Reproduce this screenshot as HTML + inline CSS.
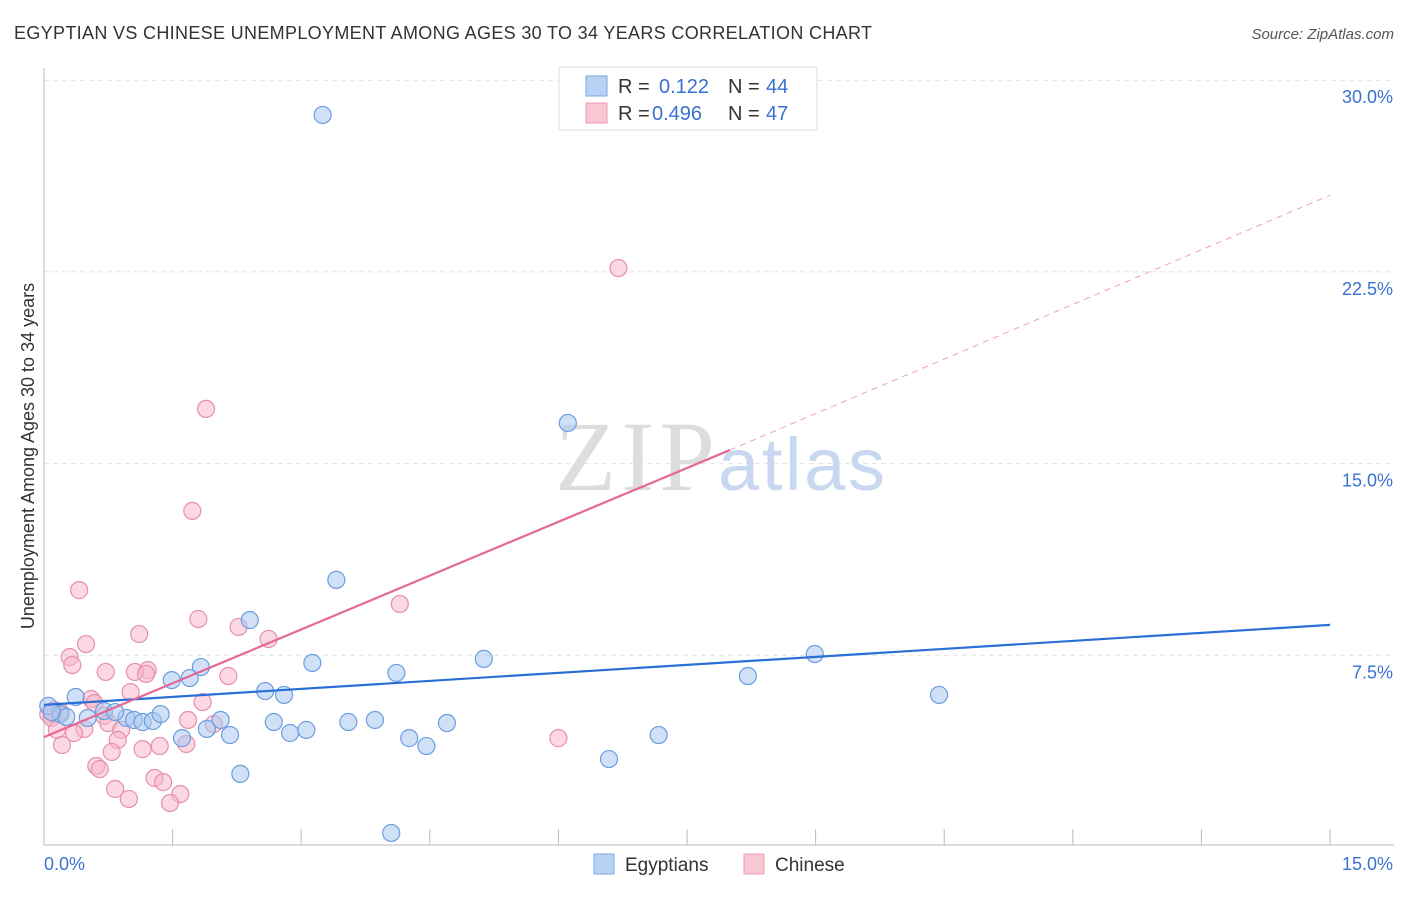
<!DOCTYPE html>
<html><head><meta charset="utf-8"><style>
body{margin:0;background:#fff;font-family:"Liberation Sans",sans-serif;}
svg text{font-family:"Liberation Sans",sans-serif;}
</style></head><body>
<svg id="chart" width="1406" height="892">
<text x="14" y="39" font-size="18" fill="#333" textLength="858">EGYPTIAN VS CHINESE UNEMPLOYMENT AMONG AGES 30 TO 34 YEARS CORRELATION CHART</text>
<text x="1394" y="39" font-size="15" fill="#555" font-style="italic" text-anchor="end">Source: ZipAtlas.com</text>
<text x="34" y="456" font-size="18" fill="#333" text-anchor="middle" transform="rotate(-90 34 456)">Unemployment Among Ages 30 to 34 years</text>
<g id="grid"></g>
<g id="axes"></g>
<text x="555" y="490" font-size="100" fill="#ddd" textLength="160" style="font-family:'Liberation Serif',serif">ZIP</text>
<text x="718" y="490" font-size="74" fill="#c7d8f0" textLength="167">atlas</text>
<g id="pts"></g>
<g id="lines"></g>
<g>
<rect x="559" y="67" width="258" height="63" fill="#fff" stroke="#ddd"/>
<rect x="586" y="76" width="21" height="20" fill="#b8d2f4" stroke="#7aa6e4"/>
<rect x="586" y="103" width="21" height="20" fill="#f9c6d4" stroke="#eb9ab4"/>
<text x="618" y="93" font-size="20" fill="#333">R = </text><text x="659" y="93" font-size="20" fill="#3a72d0">0.122</text>
<text x="728" y="93" font-size="20" fill="#333">N = </text><text x="766" y="93" font-size="20" fill="#3a72d0">44</text>
<text x="618" y="120" font-size="20" fill="#333">R = </text><text x="652" y="120" font-size="20" fill="#3a72d0">0.496</text>
<text x="728" y="120" font-size="20" fill="#333">N = </text><text x="766" y="120" font-size="20" fill="#3a72d0">47</text>
</g>
<g>
<rect x="594" y="854" width="20" height="20" fill="#b8d2f4" stroke="#7aa6e4"/>
<text x="625" y="871" font-size="19" fill="#333">Egyptians</text>
<rect x="744" y="854" width="20" height="20" fill="#f9c6d4" stroke="#eb9ab4"/>
<text x="775" y="871" font-size="19" fill="#333">Chinese</text>
</g>
</svg>
<script>
const yTicks=[7.5,15,22.5,30];
const yTickLabels=["7.5%","15.0%","22.5%","30.0%"];
const xTickCount=10;
const blueX=[3.25,6.11,3.41,2.40,8.99,5.13,3.13,4.11,8.21,1.83,1.49,1.70,2.58,2.80,10.44,0.37,0.05,0.19,0.26,0.51,0.70,0.96,1.05,1.15,1.27,1.36,2.06,2.68,3.55,3.86,4.70,1.90,2.17,2.87,3.06,1.61,4.26,4.46,7.17,2.29,6.59,4.05,0.09,0.83];
const blueY=[28.64,16.59,10.45,8.88,7.55,7.36,7.20,6.81,6.69,7.04,6.53,6.61,6.10,5.95,5.95,5.87,5.52,5.20,5.09,5.05,5.32,5.05,4.97,4.89,4.93,5.20,4.97,4.89,4.89,4.97,4.85,4.62,4.38,4.46,4.58,4.26,4.26,3.95,4.38,2.86,3.44,0.55,5.28,5.28];
const pinkX=[6.70,1.89,1.73,0.41,4.15,1.80,1.11,2.27,2.62,0.49,0.30,0.33,1.21,1.06,0.72,1.19,2.15,1.01,0.55,0.59,1.85,0.12,0.19,0.05,0.70,0.09,1.68,0.75,1.98,0.47,0.35,0.90,0.15,0.21,0.86,1.35,1.66,1.15,0.79,6.00,0.61,0.65,1.29,1.39,0.83,1.59,0.99,1.47];
const pinkY=[22.65,17.14,13.15,10.05,9.51,8.92,8.33,8.61,8.14,7.94,7.43,7.12,6.92,6.85,6.85,6.77,6.69,6.06,5.79,5.63,5.67,5.36,5.28,5.20,5.13,5.05,4.97,4.85,4.81,4.62,4.46,4.58,4.58,3.99,4.19,3.95,4.03,3.83,3.72,4.26,3.17,3.05,2.70,2.54,2.27,2.07,1.88,1.72];
const blueTrend=[[0,5.56],[15,8.69]];
const pinkTrend=[[0,4.30],[8.0,15.53]];
const pinkDash=[[8.0,15.53],[15,25.5]];
const X=v=>44+v*(1286/15), Y=v=>847-v*25.56;
const NS="http://www.w3.org/2000/svg";
function mk(t,a,p){const e=document.createElementNS(NS,t);for(const k in a)e.setAttribute(k,a[k]);p.appendChild(e);return e;}
const grid=document.getElementById('grid'),axes=document.getElementById('axes');
yTicks.forEach((t,i)=>{
 const l=mk('line',{x1:44,x2:1394,y1:Y(t),y2:Y(t),stroke:'#e2e2e2','stroke-dasharray':'5,4'},grid);
 
 
 const tx=mk('text',{x:1393,y:Y(t)+23,'font-size':18,fill:'#3a72d0','text-anchor':'end'},axes);
 tx.textContent=yTickLabels[i];
 
 
});
mk('line',{x1:44,x2:44,y1:68,y2:845,stroke:'#bbb'},axes);
mk('line',{x1:44,x2:1394,y1:845,y2:845,stroke:'#bbb'},axes);
for(let i=0;i<=xTickCount;i++){const x=X(i*15/xTickCount);const t=mk('line',{x1:x,x2:x,y1:829,y2:845,stroke:'#bbb'},axes);
 
 }
let a=mk('text',{x:44,y:870,'font-size':18,fill:'#3a72d0'},axes);a.textContent='0.0%';

a=mk('text',{x:1393,y:870,'font-size':18,fill:'#3a72d0','text-anchor':'end'},axes);a.textContent='15.0%';

const pts=document.getElementById('pts');
function dots(xs,ys,f,s,name){xs.forEach((x,i)=>{const c=mk('circle',{cx:X(x),cy:Y(ys[i]),r:8.5,fill:f,'fill-opacity':0.55,stroke:s,'stroke-width':1.2},pts);
 
 });}
dots(pinkX,pinkY,'#f7b8cb','#e78fab','chinese-point');
dots(blueX,blueY,'#aac8f0','#6b9de0','egyptian-point');
const lines=document.getElementById('lines');
let ln=mk('line',{x1:X(blueTrend[0][0]),y1:Y(blueTrend[0][1]),x2:X(blueTrend[1][0]),y2:Y(blueTrend[1][1]),stroke:'#2a6fd6','stroke-width':2.2},lines);

ln=mk('line',{x1:X(pinkTrend[0][0]),y1:Y(pinkTrend[0][1]),x2:X(pinkTrend[1][0]),y2:Y(pinkTrend[1][1]),stroke:'#e5679a','stroke-width':2.2},lines);

ln=mk('line',{x1:X(pinkDash[0][0]),y1:Y(pinkDash[0][1]),x2:X(pinkDash[1][0]),y2:Y(pinkDash[1][1]),stroke:'#eaa0bb','stroke-width':1,'stroke-dasharray':'6,5'},lines);

</script>
</body></html>
